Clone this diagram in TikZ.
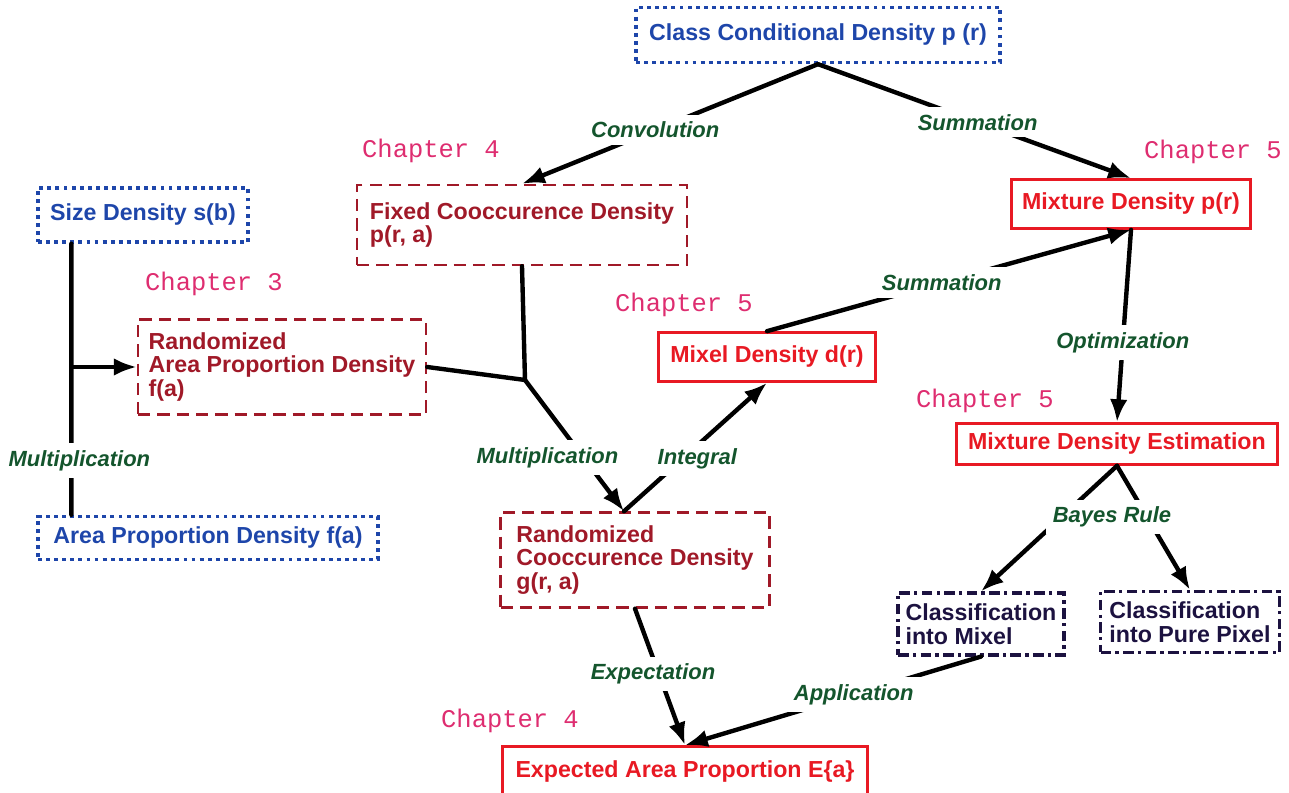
\documentclass[tikz,border=0pt]{standalone}
\usepackage{fontspec}
\setmainfont{Liberation Sans}
\setmonofont{Liberation Mono}
\usepackage{tikz}
\usetikzlibrary{positioning,shapes,arrows.meta}
\definecolor{dotblue}{RGB}{30,70,170}
\definecolor{dashred}{RGB}{160,25,40}
\definecolor{solidred}{RGB}{232,25,35}
\definecolor{dashnavy}{RGB}{28,18,64}
\definecolor{opgreen}{RGB}{20,85,45}
\definecolor{chapmag}{RGB}{222,45,112}
\newcommand{\densfont}{\fontsize{13.2}{13.4}\selectfont\bfseries}
\newcommand{\opfont}{\fontsize{12.5}{13}\selectfont\bfseries\itshape}
\newcommand{\chapfont}{\fontsize{14.5}{15}\selectfont\ttfamily}
\tikzstyle{known} = [rectangle, draw=dotblue, text=dotblue, line width=1.9pt, dash pattern=on 2.2pt off 2.4pt, align=left, font=\densfont]
\tikzstyle{derived} = [rectangle, draw=dashred, text=dashred, line width=1.4pt, dash pattern=on 7pt off 4pt, align=left, font=\densfont]
\tikzstyle{result} = [rectangle, draw=solidred, text=solidred, line width=1.5pt, align=left, font=\densfont]
\tikzstyle{decision} = [rectangle, draw=dashnavy, text=dashnavy, line width=1.8pt, dash pattern=on 6pt off 2.5pt on 1.8pt off 2.5pt, align=left, font=\densfont]
\tikzstyle{op} = [fill=white, text=opgreen, inner sep=4pt, font=\opfont]
\tikzstyle{chap} = [text=chapmag, font=\chapfont]
\tikzstyle{link} = [draw=black, line width=2.5pt, line cap=round]
\tikzstyle{coord} = [coordinate]

\begin{document}
\begin{tikzpicture}[>={Latex[length=13pt,width=10pt]},x=0.02cm,y=-0.02cm]
		\useasboundingbox (0,0) rectangle (1289,793);
		\node (ccd) [known, minimum width=7.28cm, minimum height=1.1cm] at (818,35) {Class Conditional Density p (r)};
		\node (size) [known, minimum width=4.2cm, minimum height=1.08cm] at (143,215) {Size Density s(b)};
		\node (apd) [known, minimum width=6.8cm, minimum height=0.86cm] at (208,538) {Area Proportion Density f(a)};
		\node (rapd) [derived, minimum width=5.76cm, minimum height=1.9cm] at (282,367) {Randomized\\Area Proportion Density\\f(a)};
		\node (fcd) [derived, minimum width=6.6cm, minimum height=1.6cm] at (522,225) {Fixed Cooccurence Density\\p(r, a)};
		\node (rcd) [derived, minimum width=5.38cm, minimum height=1.9cm] at (635,560) {Randomized\\Cooccurence Density\\g(r, a)};
		\node (mix) [result, minimum width=4.78cm, minimum height=0.98cm] at (1131,204) {Mixture Density p(r)};
		\node (mixel) [result, minimum width=4.34cm, minimum height=0.98cm] at (767,357) {Mixel Density d(r)};
		\node (mde) [result, minimum width=6.42cm, minimum height=0.82cm] at (1117,444) {Mixture Density Estimation};
		\node (eap) [result, minimum width=7.3cm, minimum height=1.02cm] at (685,772) {Expected Area Proportion E\{a\}};
		\node (cim) [decision, minimum width=3.32cm, minimum height=1.24cm] at (981,624) {Classification\\into Mixel};
		\node (cpp) [decision, minimum width=3.58cm, minimum height=1.22cm] at (1190,622) {Classification\\into Pure Pixel};
		
		\node (ch4a) [chap] at (431,151) {Chapter 4};
		\node (ch5a) [chap] at (1213,152) {Chapter 5};
		\node (ch3) [chap] at (214,284) {Chapter 3};
		\node (ch5b) [chap] at (684,305) {Chapter 5};
		\node (ch5c) [chap] at (985,401) {Chapter 5};
		\node (ch4b) [chap] at (510,721) {Chapter 4};
		
		\node (stop) [coord] at ([xshift=0.7cm]size.south west) {};
		\node (sbot) [coord] at ([xshift=0.7cm]apd.north west) {};
		\node (join) [coord] at (525,380) {};
		\node (gin) [coord] at ([xshift=-0.22cm]rcd.north) {};
		
		\draw[link] (stop) -- node[op, pos=0.8, xshift=0.16cm] {Multiplication} (sbot);
		\draw[link,->] (rapd.west -| stop) -- (rapd.west);
		\draw[link,->] (ccd.south) -- node[op, pos=0.55] {Convolution} (fcd.north);
		\draw[link,->] (ccd.south) -- node[op, pos=0.51] {Summation} (mix.north);
		\draw[link] (rapd.east) -- (join);
		\draw[link] (fcd.south) -- (join);
		\draw[link,->] (join) -- node[op, pos=0.59, xshift=-0.72cm] {Multiplication} (gin);
		\draw[link,->] (gin) -- node[op, pos=0.45, xshift=0.18cm, yshift=-0.1cm] {Integral} (mixel.south);
		\draw[link,->] (mixel.north) -- node[op, pos=0.48] {Summation} (mix.south);
		\draw[link,->] (mix.south) -- node[op, pos=0.585] {Optimization} (mde.north);
		\draw[link,->] (mde.south) -- (cim.north);
		\draw[link,->] (mde.south) -- (cpp.north);
		\node (bayes) [op] at (1112,517) {Bayes Rule};
		\draw[link,->] (rcd.south) -- node[op, pos=0.48, xshift=-0.12cm] {Expectation} (eap.north);
		\draw[link,->] (cim.south) -- node[op, pos=0.43] {Application} (eap.north);
	\end{tikzpicture}
\end{document}
